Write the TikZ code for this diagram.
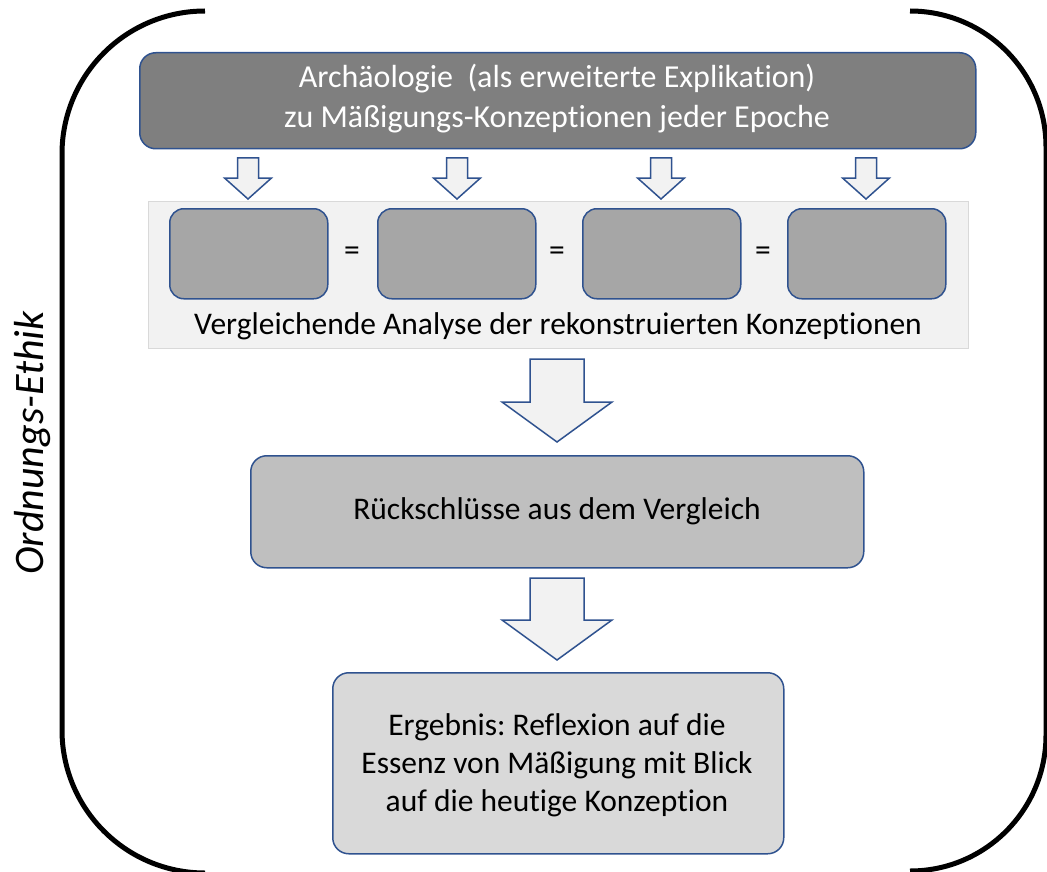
\documentclass[tikz,border=0pt]{standalone}
\usepackage{fontspec}
\setmainfont{Carlito}[Ligatures=NoCommon]
\frenchspacing
\definecolor{bordblue}{HTML}{2F528F}
\definecolor{darkfill}{HTML}{7F7F7F}
\definecolor{midfill}{HTML}{A6A6A6}
\definecolor{lightfill}{HTML}{BFBFBF}
\definecolor{palefill}{HTML}{D9D9D9}
\definecolor{arrowfill}{HTML}{F2F2F2}
\definecolor{panelfill}{HTML}{F2F2F2}
\definecolor{panelline}{HTML}{D9D9D9}
\begin{document}
\begin{tikzpicture}[x=1pt,y=-1pt,
  box/.style={draw=bordblue,line width=1.5pt,rounded corners=16pt,inner sep=0pt,anchor=north west},
  blockarrow/.style={draw=bordblue,fill=arrowfill,line width=1.5pt,line join=miter},
  frameline/.style={line width=5pt,black},
  txt/.style={font=\fontsize{31.5}{40}\selectfont,align=center}]
\useasboundingbox (0,0) rectangle (1047,872);
% frame brackets
\draw[frameline] (205,11) arc[start angle=270,end angle=180,radius=143] -- (62,730) arc[start angle=180,end angle=90,radius=143];
\draw[frameline] (910,11) arc[start angle=270,end angle=360,radius=136] -- (1046,735) arc[start angle=0,end angle=90,radius=136];
\node[rotate=90,font=\fontsize{42}{48}\selectfont\itshape] (side) at (33,443) {Ordnungs-Ethik};
% top box
\node[box,fill=darkfill,minimum width=836pt,minimum height=96pt] (top) at (139,52) {};
\node[txt,text=white,font=\fontsize{32}{40}\selectfont] (toptxt) at (557,99) {Archäologie\ \ (als erweiterte Explikation)\\zu Mäßigungs-Konzeptionen jeder Epoche};
% small arrows
\foreach \cx/\n in {248/a1,457/a2,661/a3,866/a4}{
  \draw[blockarrow] (\cx-10.5,158) -- (\cx+10.5,158) -- (\cx+10.5,178) -- (\cx+23.5,178) -- (\cx,199) -- (\cx-23.5,178) -- (\cx-10.5,178) -- cycle;
}
% panel
\node[draw=panelline,fill=panelfill,line width=1pt,minimum width=820pt,minimum height=147pt,inner sep=0pt,anchor=north west] (panel) at (148,201) {};
\foreach \lx/\n in {169/b1,377/b2,582/b3,787/b4}{
  \node[box,fill=midfill,minimum width=158pt,minimum height=90pt,rounded corners=14pt] (\n) at (\lx,208) {};
}
\node[txt] (eq1) at (352,254) {=};
\node[txt] (eq2) at (557,254) {=};
\node[txt] (eq3) at (763,254) {=};
\node[txt] (paneltxt) at (558,326) {Vergleichende Analyse der rekonstruierten Konzeptionen};
% big arrow 1
\draw[blockarrow] (530,359) -- (584,359) -- (584,402) -- (612,402) -- (557,442) -- (502,402) -- (530,402) -- cycle;
% middle box
\node[box,fill=lightfill,minimum width=613pt,minimum height=112pt] (mid) at (250,455) {};
\node[txt] (midtxt) at (557,511) {Rückschlüsse aus dem Vergleich};
% big arrow 2
\draw[blockarrow] (530,578) -- (584,578) -- (584,620) -- (612,620) -- (557,660) -- (502,620) -- (530,620) -- cycle;
% bottom box
\node[box,fill=palefill,minimum width=451pt,minimum height=181pt] (bot) at (332,672) {};
\node[txt,font=\fontsize{31.5}{38}\selectfont] (bottxt) at (557,765) {Ergebnis: Reflexion auf die\\Essenz von Mäßigung mit Blick\\auf die heutige Konzeption};
\end{tikzpicture}
\end{document}
